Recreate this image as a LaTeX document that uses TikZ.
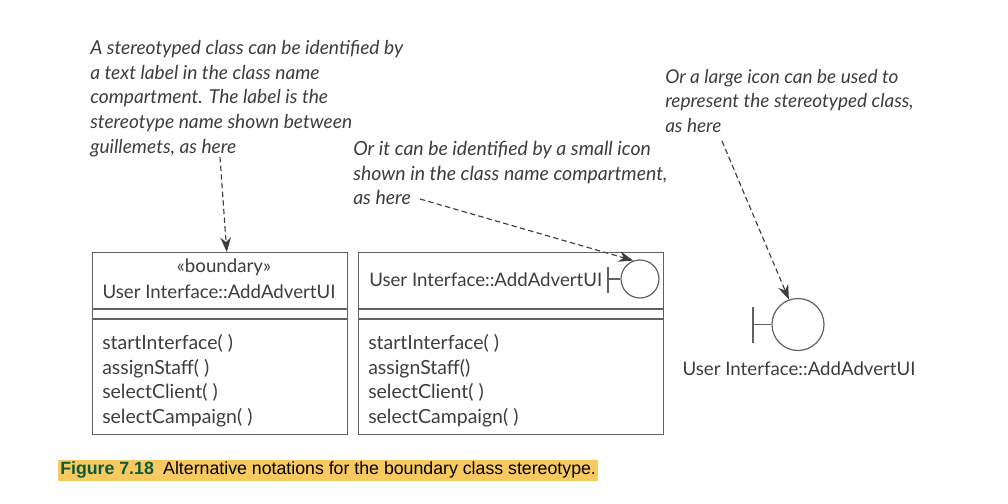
\documentclass[tikz,border=0pt]{standalone}
\usepackage{fontspec}
\setmainfont{Lato}
\newfontfamily\capfont{Liberation Sans}
\usetikzlibrary{arrows.meta}
\usetikzlibrary{positioning}
\definecolor{inkgray}{rgb}{0.24,0.24,0.24}
\definecolor{linegray}{rgb}{0.38,0.38,0.38}
\definecolor{capyellow}{rgb}{0.97,0.79,0.37}
\definecolor{capgreen}{rgb}{0.04,0.36,0.23}
\tikzset{
  classbox/.style={draw=linegray,line width=0.9pt,inner sep=0pt,anchor=north west},
  classtext/.style={color=inkgray,font=\fontsize{14}{18.5}\selectfont,inner sep=0pt},
  opstext/.style={color=inkgray,font=\fontsize{14.6}{18.5}\selectfont,inner sep=0pt,align=left,anchor=north west},
  notetext/.style={color=inkgray,font=\fontsize{14.4}{18.5}\selectfont\itshape,align=left,anchor=north west,inner sep=0pt},
  noteline/.style={color=inkgray,line width=0.85pt,dash pattern=on 4pt off 2.5pt,-{Stealth[length=11pt,width=8pt]}},
  iconline/.style={draw=linegray,line width=0.9pt}
}
\begin{document}
\begin{tikzpicture}[x=0.75pt,y=-0.75pt]
\useasboundingbox (0,0) rectangle (1008,504);
% notes
\node[notetext] (noteA) at (90,40) {A stereotyped class can be identified by\\a text label in the class name\\compartment. The label is the\\stereotype name shown between\\guillemets, as here};
\node[notetext,font=\fontsize{14.6}{18.5}\selectfont\itshape] (noteB) at (353,141) {Or it can be identified by a small icon\\shown in the class name compartment,\\as here};
\node[notetext,font=\fontsize{14.25}{18.5}\selectfont\itshape] (noteC) at (665,69) {Or a large icon can be used to\\represent the stereotyped class,\\as here};
% class boxes
\node[classbox,minimum width=191.25pt,minimum height=136.5pt] (boxA) at (92,252) {};
\node[classbox,minimum width=228.75pt,minimum height=136.5pt] (boxB) at (358,252) {};
\foreach \b in {boxA,boxB} {
\draw[iconline] (\b.west |- 0,309) -- (\b.east |- 0,309);
\draw[iconline] (\b.west |- 0,319) -- (\b.east |- 0,319);
}
\node[classtext] (stereoA) at (224,267.5) {«boundary»};
\node[classtext] (nameA) at (219,292) {User Interface::AddAdvertUI};
\node[classtext,anchor=west] (nameB) at (369,280) {User Interface::AddAdvertUI};
\node[opstext] (opsA) at (102,334) {startInterface( )\\assignStaff( )\\selectClient( )\\selectCampaign( )};
\node[opstext] (opsB) at (368,334) {startInterface( )\\assignStaff()\\selectClient( )\\selectCampaign( )};
% small icon
\node[circle,iconline,minimum size=28.5pt,inner sep=0pt] (smallIcon) at (640,279) {};
\coordinate (smallTee) at (608,279);
\draw[iconline] (smallIcon.west) -- (smallTee);
\draw[iconline] (608,267) -- (608,293);
% large icon
\node[circle,iconline,minimum size=39pt,inner sep=0pt] (largeIcon) at (798,324.5) {};
\coordinate (largeTee) at (753,324.5);
\draw[iconline] (largeIcon.west) -- (largeTee);
\draw[iconline] (753,307) -- (753,343);
\node[classtext] (nameC) at (799,369) {User Interface::AddAdvertUI};
% arrows
\coordinate (startA) at (220,157);
\coordinate (startB) at (420,199);
\coordinate (startC) at (722,141);
\draw[noteline] (startA) -- ([xshift=5pt]boxA.north);
\draw[noteline] (startB) -- (smallIcon.110);
\draw[noteline] (startC) -- (largeIcon.110);
% caption
\fill[capyellow] (58,460) rectangle (598,481);
\node[anchor=west,inner sep=0pt,font=\capfont\fontsize{13.3}{16}\selectfont] (caption) at (60,470) {\textcolor{capgreen}{\bfseries Figure 7.18}\hspace{7pt}Alternative notations for the boundary class stereotype.};
\end{tikzpicture}
\end{document}
